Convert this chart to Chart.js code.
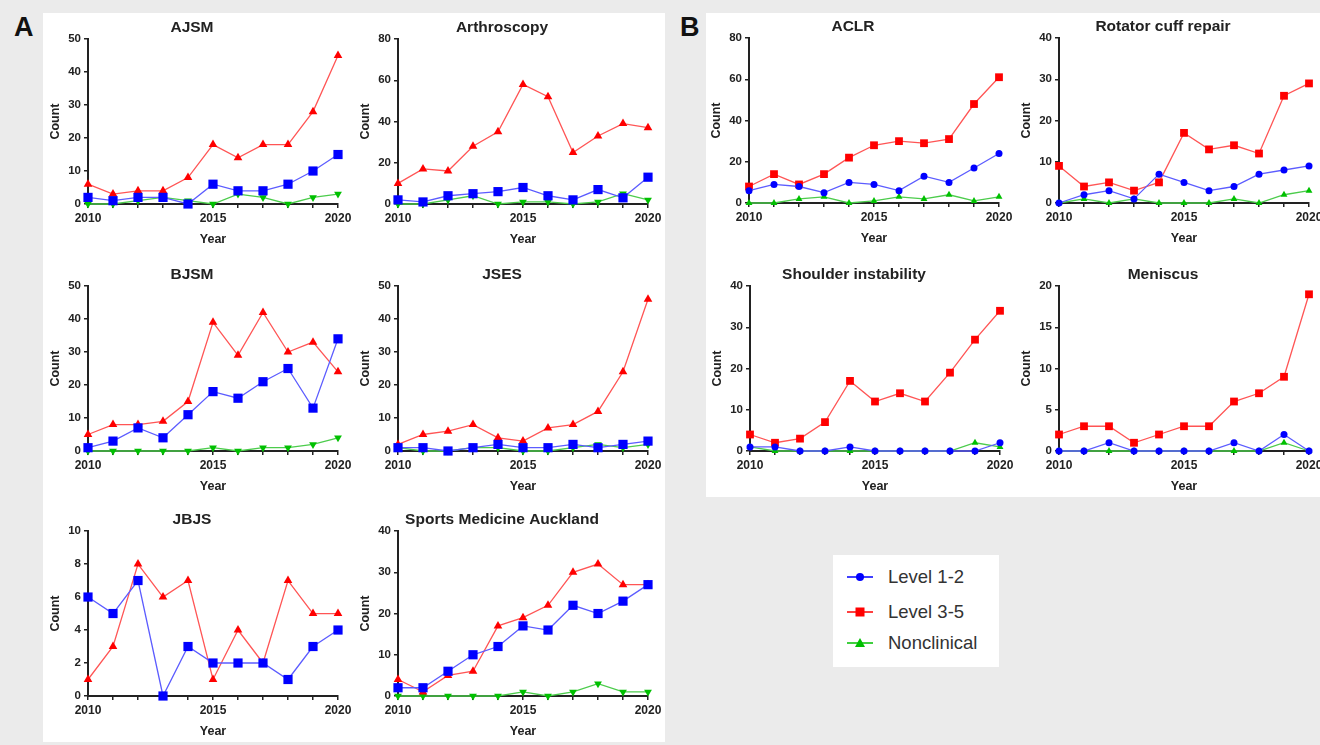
<!DOCTYPE html>
<html>
<head>
<meta charset="utf-8">
<script src="https://cdn.jsdelivr.net/npm/chart.js@4.4.1/dist/chart.umd.min.js"></script>
<style>
body { margin:0; width:1320px; height:745px; background:#ebebeb; overflow:hidden; position:relative; font-family:"Liberation Sans", Arial, sans-serif; }
.sheet { position:absolute; background:#fff; }
.letter { position:absolute; font-weight:bold; font-size:27px; color:#111; line-height:1; }
canvas { position:absolute; }
#legend { position:absolute; left:833px; top:555px; width:166px; height:112px; background:#fff; }
.item { position:absolute; left:14px; height:20px; font-size:18.5px; color:#333; }
.item svg { position:absolute; left:0; top:0; }
.item span { position:absolute; left:41px; top:0; white-space:nowrap; line-height:20px; }
</style>
</head>
<body>
<div class="sheet" style="left:43px; top:13px; width:622px; height:729px;"></div>
<div class="sheet" style="left:706px; top:13px; width:614px; height:484px;"></div>
<div class="letter" style="left:14px; top:14px;">A</div>
<div class="letter" style="left:680px; top:14px;">B</div>

<div id="legend">
  <div class="item" style="top:12px;">
    <svg width="30" height="20"><line x1="0" y1="10" x2="26" y2="10" stroke="#0000ff" stroke-width="1.5"/><circle cx="13" cy="10" r="4" fill="#0000ff"/></svg>
    <span>Level 1-2</span>
  </div>
  <div class="item" style="top:47px;">
    <svg width="30" height="20"><line x1="0" y1="10" x2="26" y2="10" stroke="#ff0000" stroke-width="1.5"/><rect x="8.5" y="5.5" width="9" height="9" fill="#ff0000"/></svg>
    <span>Level 3-5</span>
  </div>
  <div class="item" style="top:78px;">
    <svg width="30" height="20"><line x1="0" y1="10" x2="26" y2="10" stroke="#00c000" stroke-width="1.5"/><polygon points="13,5 18,14 8,14" fill="#00c000"/></svg>
    <span>Nonclinical</span>
  </div>
</div>

<script>
// years on the x axis
var years = [2010, 2011, 2012, 2013, 2014, 2015, 2016, 2017, 2018, 2019, 2020];

// A: journals
var ajsmL12 = [2, 1, 2, 2, 0, 6, 4, 4, 6, 10, 15];
var ajsmL35 = [6, 3, 4, 4, 8, 18, 14, 18, 18, 28, 45];
var ajsmNon = [0, 0, 1, 2, 1, 0, 3, 2, 0, 2, 3];

var arthL12 = [2, 1, 4, 5, 6, 8, 4, 2, 7, 3, 13];
var arthL35 = [10, 17, 16, 28, 35, 58, 52, 25, 33, 39, 37];
var arthNon = [0, 0, 2, 4, 0, 1, 1, 0, 1, 5, 2];

var bjsmL12 = [1, 3, 7, 4, 11, 18, 16, 21, 25, 13, 34];
var bjsmL35 = [5, 8, 8, 9, 15, 39, 29, 42, 30, 33, 24];
var bjsmNon = [0, 0, 0, 0, 0, 1, 0, 1, 1, 2, 4];

var jsesL12 = [1, 1, 0, 1, 2, 1, 1, 2, 1, 2, 3];
var jsesL35 = [2, 5, 6, 8, 4, 3, 7, 8, 12, 24, 46];
var jsesNon = [1, 0, 0, 1, 1, 0, 0, 1, 2, 1, 2];

var jbjsL12 = [6, 5, 7, 0, 3, 2, 2, 2, 1, 3, 4];
var jbjsL35 = [1, 3, 8, 6, 7, 1, 4, 2, 7, 5, 5];

var smaL12 = [2, 2, 6, 10, 12, 17, 16, 22, 20, 23, 27];
var smaL35 = [4, 1, 5, 6, 17, 19, 22, 30, 32, 27, 27];
var smaNon = [0, 0, 0, 0, 0, 1, 0, 1, 3, 1, 1];

// B: topics
var aclrL12 = [6, 9, 8, 5, 10, 9, 6, 13, 10, 17, 24];
var aclrL35 = [8, 14, 9, 14, 22, 28, 30, 29, 31, 48, 61];
var aclrNon = [0, 0, 2, 3, 0, 1, 3, 2, 4, 1, 3];

var rcrL12 = [0, 2, 3, 1, 7, 5, 3, 4, 7, 8, 9];
var rcrL35 = [9, 4, 5, 3, 5, 17, 13, 14, 12, 26, 29];
var rcrNon = [0, 1, 0, 1, 0, 0, 0, 1, 0, 2, 3];

var shL12 = [1, 1, 0, 0, 1, 0, 0, 0, 0, 0, 2];
var shL35 = [4, 2, 3, 7, 17, 12, 14, 12, 19, 27, 34];
var shNon = [1, 0, 0, 0, 0, 0, 0, 0, 0, 2, 1];

var menL12 = [0, 0, 1, 0, 0, 0, 0, 1, 0, 2, 0];
var menL35 = [2, 3, 3, 1, 2, 3, 3, 6, 7, 9, 19];
var menNon = [0, 0, 0, 0, 0, 0, 0, 0, 0, 1, 0];

var FONT = '"Liberation Sans", Arial, sans-serif';
var INK = '#222';

// marker looks for the two halves of the figure
var styleA = { blue: ['rect', 6.5, 0], red: ['triangle', 5, 0], green: ['triangle', 4.5, 180] };
var styleB = { blue: ['circle', 3.5, 0], red: ['rect', 5.5, 0], green: ['triangle', 4, 0] };

function series(data, mark, dot, line) {
  return {
    data: data,
    borderColor: line,
    borderWidth: 1.3,
    backgroundColor: dot,
    pointBackgroundColor: dot,
    pointBorderColor: dot,
    pointBorderWidth: 0,
    pointStyle: mark[0],
    pointRadius: mark[1],
    pointRotation: mark[2],
    tension: 0,
    fill: false,
    clip: false
  };
}

function panel(title, plotLeft, plotTop, yMax, yStep, blue, red, green, st) {
  var cv = document.createElement('canvas');
  cv.width = 334;
  cv.height = 235;
  cv.style.left = (plotLeft - 42) + 'px';
  cv.style.top = (plotTop - 24) + 'px';
  document.body.appendChild(cv);

  var sets = [series(blue, st.blue, '#0000ff', '#5c5cff'),
              series(red, st.red, '#ff0000', '#ff5555')];
  if (green) sets.push(series(green, st.green, '#00c000', '#4ccc4c'));

  new Chart(cv, {
    type: 'line',
    data: { labels: years, datasets: sets },
    options: {
      responsive: false,
      animation: false,
      layout: { padding: { right: 42 } },
      plugins: {
        legend: { display: false },
        tooltip: { enabled: false },
        title: {
          display: true, text: title, color: INK,
          font: { family: FONT, size: 15.5, weight: 'bold', lineHeight: 1.1 },
          padding: { top: 4, bottom: 3 }
        }
      },
      scales: {
        x: {
          type: 'category',
          offset: false,
          border: { display: true, color: INK, width: 2 },
          grid: { display: true, drawOnChartArea: false, drawTicks: true, tickLength: 4, color: INK, lineWidth: 1.5 },
          ticks: {
            autoSkip: false, maxRotation: 0, padding: 3, color: INK,
            font: { family: FONT, size: 12, weight: 'bold' },
            callback: function (v, i) { return years[i] % 5 === 0 ? String(years[i]) : ''; }
          },
          title: { display: true, text: 'Year', color: INK, font: { family: FONT, size: 12.5, weight: 'bold' }, padding: { top: 0, bottom: 3 } },
          afterFit: function (s) { s.height = 46; }
        },
        y: {
          min: 0, max: yMax,
          border: { display: true, color: INK, width: 2 },
          grid: { display: true, drawOnChartArea: false, drawTicks: true, tickLength: 4, color: INK, lineWidth: 1.5 },
          ticks: { stepSize: yStep, padding: 3, color: INK, font: { family: FONT, size: 11.5, weight: 'bold' } },
          title: { display: true, text: 'Count', color: INK, font: { family: FONT, size: 12.5, weight: 'bold' }, padding: { top: 2, bottom: 0 } },
          afterFit: function (s) { s.width = 42; }
        }
      }
    }
  });
}

panel('AJSM', 88, 39, 50, 10, ajsmL12, ajsmL35, ajsmNon, styleA);
panel('Arthroscopy', 398, 39, 80, 20, arthL12, arthL35, arthNon, styleA);
panel('BJSM', 88, 286, 50, 10, bjsmL12, bjsmL35, bjsmNon, styleA);
panel('JSES', 398, 286, 50, 10, jsesL12, jsesL35, jsesNon, styleA);
panel('JBJS', 88, 531, 10, 2, jbjsL12, jbjsL35, null, styleA);
panel('Sports Medicine Auckland', 398, 531, 40, 10, smaL12, smaL35, smaNon, styleA);

panel('ACLR', 749, 38, 80, 20, aclrL12, aclrL35, aclrNon, styleB);
panel('Rotator cuff repair', 1059, 38, 40, 10, rcrL12, rcrL35, rcrNon, styleB);
panel('Shoulder instability', 750, 286, 40, 10, shL12, shL35, shNon, styleB);
panel('Meniscus', 1059, 286, 20, 5, menL12, menL35, menNon, styleB);
</script>
</body>
</html>
